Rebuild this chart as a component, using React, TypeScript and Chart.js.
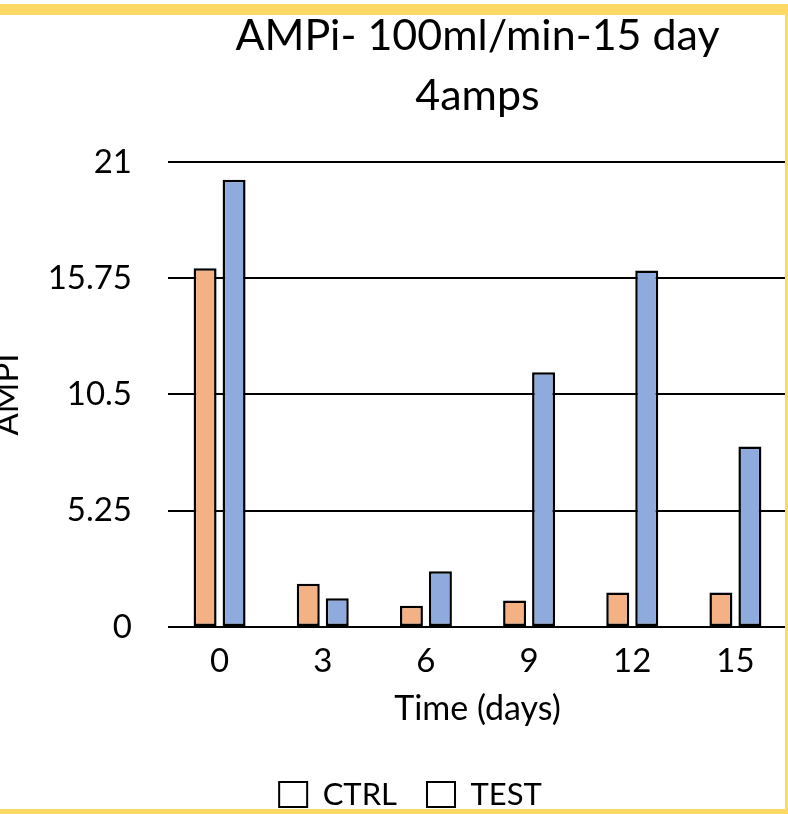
import React, { useEffect, useRef } from "react";
import { Chart, registerables } from "chart.js";

Chart.register(...registerables);

const categories = ["0", "3", "6", "9", "12", "15"];
const ctrlValues = [16.2, 1.95, 0.96, 1.2, 1.56, 1.56];
const testValues = [20.2, 1.3, 2.52, 11.5, 16.1, 8.15];
const seriesNames = ["CTRL", "TEST"];
const seriesColors = ["#F4B183", "#8FAADC"];
const titleLines = ["AMPi- 100ml/min-15 day", "4amps"];
const xAxisTitle = "Time (days)";
const yAxisTitle = "AMPI";
const yMin = 0;
const yMax = 21;
const yStep = 5.25;

const FONT = "Lato, 'Noto Sans', sans-serif";

export default function App() {
  const ref = useRef<HTMLCanvasElement>(null);

  useEffect(() => {
    if (!ref.current) return;
    const chart = new Chart(ref.current, {
      type: "bar",
      data: {
        labels: categories,
        datasets: [ctrlValues, testValues].map((vals, i) => ({
          label: seriesNames[i],
          data: vals,
          backgroundColor: seriesColors[i],
          borderColor: "#000000",
          borderWidth: 2.5,
          borderSkipped: false,
          categoryPercentage: 0.562,
          barPercentage: 0.793,
        })),
      },
      options: {
        animation: false,
        responsive: false,
        devicePixelRatio: 1,
        layout: { padding: { left: 34, right: 1, top: 0, bottom: 0 } },
        plugins: {
          title: {
            display: true,
            text: titleLines,
            fullSize: false,
            color: "#000000",
            font: { family: FONT, size: 43, weight: "normal", lineHeight: 1.395 },
            padding: { top: 6, bottom: 36 },
          },
          legend: {
            position: "bottom",
            labels: {
              font: { family: FONT, size: 31 },
              color: "#000000",
              boxWidth: 28,
              boxHeight: 25,
              padding: 30,
              generateLabels: (c: any) =>
                c.data.datasets.map((ds: any, i: number) => ({
                  text: ds.label,
                  fillStyle: "#ffffff",
                  strokeStyle: "#000000",
                  lineWidth: 2,
                  hidden: false,
                  datasetIndex: i,
                  fontColor: "#000000",
                })),
            },
          },
          tooltip: { enabled: false },
        },
        scales: {
          x: {
            grid: { display: false },
            border: { display: false },
            ticks: { font: { family: FONT, size: 33 }, color: "#000000", padding: 7 },
            title: {
              display: true,
              text: xAxisTitle,
              color: "#000000",
              font: { family: FONT, size: 34 },
              padding: { top: 0, bottom: 20 },
            },
            afterFit: (s: any) => {
              s.height = 122;
            },
          },
          y: {
            min: yMin,
            max: yMax,
            ticks: {
              stepSize: yStep,
              font: { family: FONT, size: 33 },
              color: "#000000",
              padding: 36,
              callback: (v: any) => String(v),
            },
            grid: { color: "#000000", lineWidth: 2, drawTicks: false },
            border: { display: false },
            title: {
              display: true,
              text: yAxisTitle,
              color: "#000000",
              font: { family: FONT, size: 33 },
              padding: { top: -46, bottom: 0 },
            },
            afterFit: (s: any) => {
              s.width = 134;
            },
          },
        },
      },
    });
    return () => chart.destroy();
  }, []);

  return (
    <div
      style={{
        position: "fixed",
        left: 0,
        top: 0,
        width: 788,
        height: 814,
        overflow: "hidden",
        background: "#ffffff",
      }}
    >
      <canvas ref={ref} width={788} height={820} style={{ display: "block", width: 788, height: 820 }} />
      <div style={{ position: "absolute", left: 0, top: 4, width: 788, height: 11, background: "#FFD966" }} />
      <div style={{ position: "absolute", left: 785, top: 4, width: 3, height: 810, background: "#FFD966" }} />
      <div style={{ position: "absolute", left: 0, top: 809, width: 788, height: 5, background: "#FFD966" }} />
    </div>
  );
}
